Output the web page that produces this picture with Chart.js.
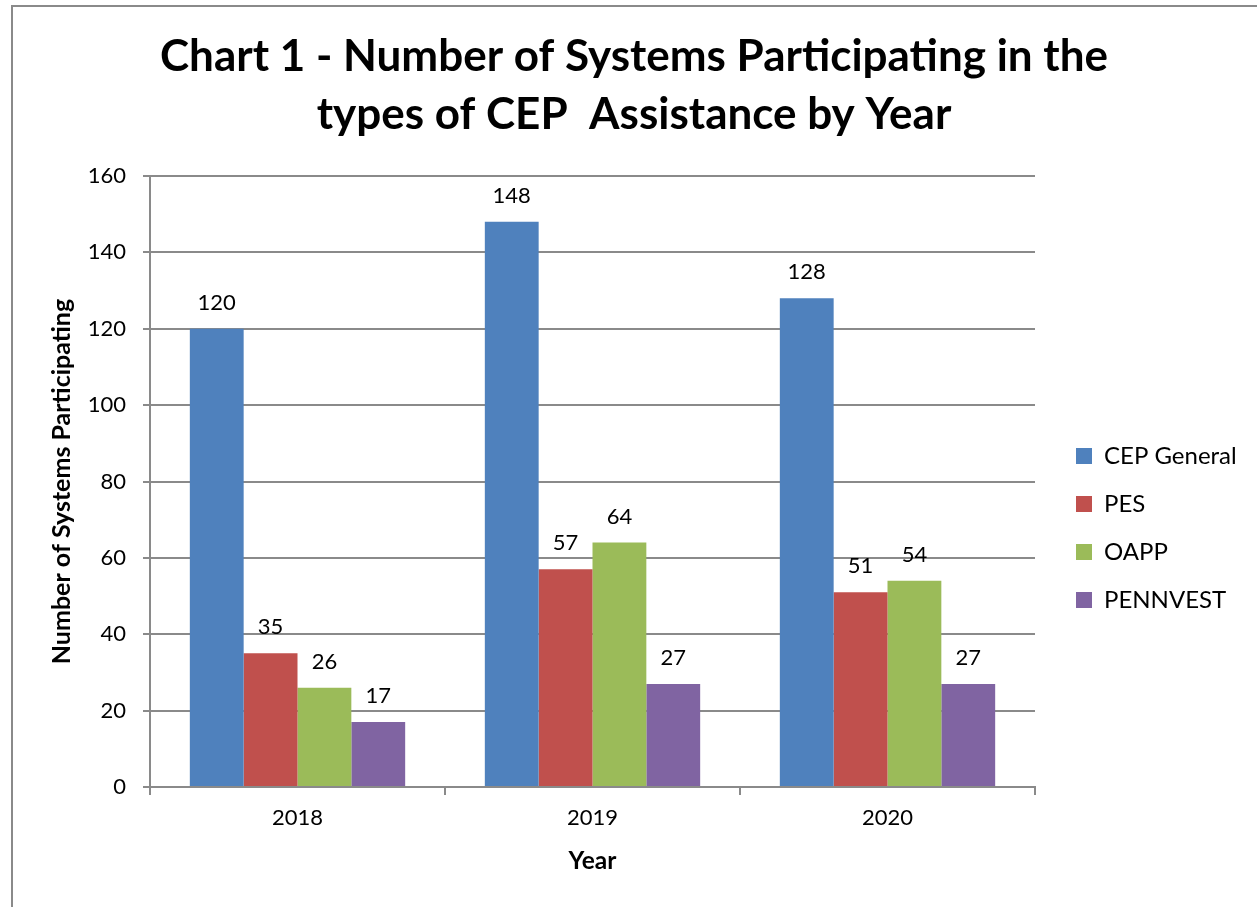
<!DOCTYPE html>
<html>
<head>
<meta charset="utf-8">
<script src="https://cdn.jsdelivr.net/npm/chart.js@4.4.1/dist/chart.umd.min.js"></script>
<style>
  body { margin: 0; background: #fff; }
  canvas { display: block; }
</style>
</head>
<body>
<canvas id="barChart" width="1257" height="907"></canvas>
<script>
// data
var years = ['2018', '2019', '2020'];
var seriesNames = ['CEP General', 'PES', 'OAPP', 'PENNVEST'];
var cepGeneral = [120, 148, 128];
var pes = [35, 57, 51];
var oapp = [26, 64, 54];
var pennvest = [17, 27, 27];
var yTicks = [0, 20, 40, 60, 80, 100, 120, 140, 160];

var colors = ['#4F81BD', '#C0504D', '#9BBB59', '#8064A2'];
var values = [cepGeneral, pes, oapp, pennvest];
var gridGray = '#8a8a8a';
var font = 'Lato';

// outer chart frame (only left and top edges are in view)
var frame = {
    id: 'frame',
    beforeDraw: function (chart) {
        var c = chart.ctx;
        c.save();
        c.strokeStyle = '#8a8a8a';
        c.lineWidth = 2;
        c.beginPath();
        c.moveTo(12, chart.height);
        c.lineTo(12, 6);
        c.lineTo(chart.width, 6);
        c.stroke();
        c.restore();
    }
};

// value labels above each bar
var barLabels = {
    id: 'barLabels',
    afterDatasetsDraw: function (chart) {
        var c = chart.ctx;
        c.save();
        c.font = '22px ' + font;
        c.fillStyle = '#000';
        c.textAlign = 'center';
        c.textBaseline = 'alphabetic';
        chart.data.datasets.forEach(function (ds, i) {
            chart.getDatasetMeta(i).data.forEach(function (bar, j) {
                c.fillText(ds.data[j], bar.x, bar.y - 19);
            });
        });
        c.restore();
    }
};

// fixed legend width so the entries sit where they do in the reference
var legendWidth = {
    id: 'legendWidth',
    beforeLayout: function (chart) {
        var lg = chart.legend;
        if (lg && !lg._fixedWidth) {
            var fit = lg.fit;
            lg.fit = function () {
                fit.call(this);
                this.width = 205;
            };
            lg._fixedWidth = true;
        }
    }
};

var ctx = document.getElementById('barChart').getContext('2d');
var barChart = new Chart(ctx, {
    type: 'bar',
    data: {
        labels: years,
        datasets: seriesNames.map(function (name, i) {
            return {
                label: name,
                data: values[i],
                backgroundColor: colors[i],
                borderWidth: 0,
                categoryPercentage: 0.73,
                barPercentage: 1.0
            };
        })
    },
    options: {
        responsive: false,
        animation: false,
        layout: { padding: { left: 11, right: 0, top: 0, bottom: 0 } },
        plugins: {
            title: {
                display: true,
                text: ['Chart 1 - Number of Systems Participating in the', 'types of CEP  Assistance by Year'],
                color: '#000',
                font: { family: font, size: 44, weight: 'bold', lineHeight: 58 / 44 },
                padding: { top: 28, bottom: 32 }
            },
            legend: {
                position: 'right',
                align: 'center',
                title: { display: true, text: ' ', font: { size: 10, lineHeight: 1.2 }, padding: { top: 137, bottom: 0 } },
                labels: {
                    boxWidth: 16,
                    boxHeight: 16,
                    padding: 24,
                    color: '#000',
                    font: { family: font, size: 24 }
                }
            },
            tooltip: { enabled: false }
        },
        scales: {
            x: {
                grid: { display: true, drawOnChartArea: false, color: gridGray, tickLength: 8, lineWidth: 2 },
                border: { color: gridGray, width: 2 },
                ticks: { color: '#000', font: { family: font, size: 22 }, padding: 10 },
                title: {
                    display: true, text: 'Year', color: '#000',
                    font: { family: font, size: 24.5, weight: 'bold' },
                    padding: { top: 0, bottom: 31 }
                },
                afterFit: function (s) { s.height = 120; }
            },
            y: {
                min: 0,
                max: 160,
                afterBuildTicks: function (s) {
                    s.ticks = yTicks.map(function (v) { return { value: v }; });
                },
                grid: { color: gridGray, tickLength: 7, lineWidth: 2 },
                border: { color: gridGray, width: 2 },
                ticks: { color: '#000', font: { family: font, size: 22 }, padding: 17 },
                title: {
                    display: true, text: 'Number of Systems Participating', color: '#000',
                    font: { family: font, size: 25, weight: 'bold' },
                    padding: { top: 36, bottom: 0 }
                },
                afterFit: function (s) { s.width = 139; }
            },
            // spacer between the plot and the legend
            gap: {
                type: 'linear',
                position: 'right',
                display: true,
                grid: { display: false },
                border: { display: false },
                ticks: { display: false },
                afterFit: function (s) { s.width = 17; }
            }
        }
    },
    plugins: [frame, barLabels, legendWidth]
});
</script>
</body>
</html>
